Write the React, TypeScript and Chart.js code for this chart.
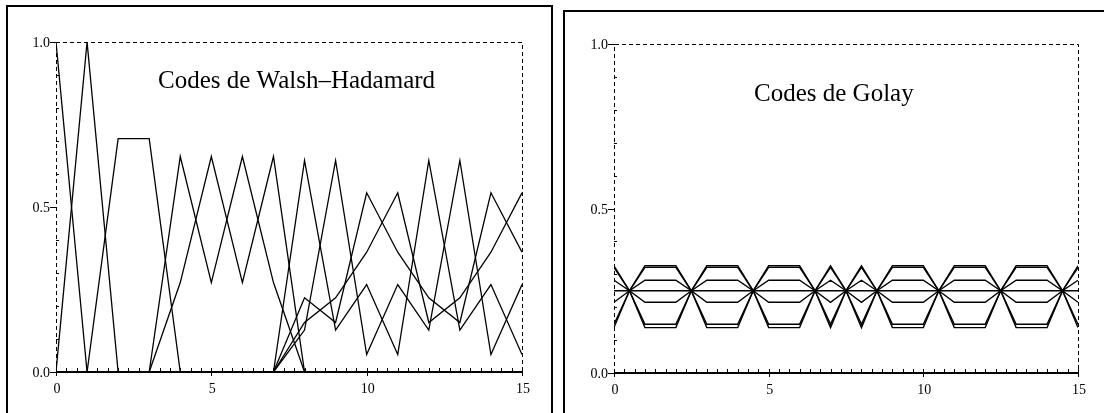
import { useEffect, useRef } from "react";
import { Chart, registerables } from "chart.js";

Chart.register(...registerables);

// ---- Walsh–Hadamard codes: spectral magnitude per frequency bin, by code index ----
const codeIndex = [0, 1, 2, 3, 4, 5, 6, 7, 8, 9, 10, 11, 12, 13, 14, 15];
const walshBin0 = [1, 0, 0, 0, 0, 0, 0, 0, 0, 0, 0, 0, 0, 0, 0, 0];
const walshBin8 = [0, 1, 0, 0, 0, 0, 0, 0, 0, 0, 0, 0, 0, 0, 0, 0];
const walshBin4 = [0, 0, 0.707, 0.707, 0, 0, 0, 0, 0, 0, 0, 0, 0, 0, 0, 0];
const walshBin2 = [0, 0, 0, 0, 0.653, 0.271, 0.653, 0.271, 0, 0, 0, 0, 0, 0, 0, 0];
const walshBin6 = [0, 0, 0, 0, 0.271, 0.653, 0.271, 0.653, 0, 0, 0, 0, 0, 0, 0, 0];
const walshBin1 = [0, 0, 0, 0, 0, 0, 0, 0, 0.641, 0.127, 0.265, 0.053, 0.641, 0.127, 0.265, 0.053];
const walshBin3 = [0, 0, 0, 0, 0, 0, 0, 0, 0.225, 0.150, 0.543, 0.363, 0.225, 0.150, 0.543, 0.363];
const walshBin5 = [0, 0, 0, 0, 0, 0, 0, 0, 0.150, 0.225, 0.363, 0.543, 0.150, 0.225, 0.363, 0.543];
const walshBin7 = [0, 0, 0, 0, 0, 0, 0, 0, 0.127, 0.641, 0.053, 0.265, 0.127, 0.641, 0.053, 0.265];
const walshSeries = [walshBin0, walshBin8, walshBin4, walshBin2, walshBin6, walshBin1, walshBin3, walshBin5, walshBin7];

// ---- Golay codes: sampled every half step ----
const golayX = [
  0, 0.5, 1, 1.5, 2, 2.5, 3, 3.5, 4, 4.5, 5, 5.5, 6, 6.5, 7, 7.5,
  8, 8.5, 9, 9.5, 10, 10.5, 11, 11.5, 12, 12.5, 13, 13.5, 14, 14.5, 15,
];
const golayA = [
  0.148, 0.25, 0.326, 0.326, 0.326, 0.25, 0.148, 0.148, 0.148, 0.25, 0.326, 0.326, 0.326, 0.25, 0.148, 0.25,
  0.326, 0.25, 0.148, 0.148, 0.148, 0.25, 0.326, 0.326, 0.326, 0.25, 0.148, 0.148, 0.148, 0.25, 0.326,
];
const golayB = [
  0.138, 0.25, 0.321, 0.321, 0.321, 0.25, 0.138, 0.138, 0.138, 0.25, 0.321, 0.321, 0.321, 0.25, 0.138, 0.25,
  0.321, 0.25, 0.138, 0.138, 0.138, 0.25, 0.321, 0.321, 0.321, 0.25, 0.138, 0.138, 0.138, 0.25, 0.321,
];
const golayC = [
  0.215, 0.25, 0.282, 0.282, 0.282, 0.25, 0.215, 0.215, 0.215, 0.25, 0.282, 0.282, 0.282, 0.25, 0.215, 0.25,
  0.282, 0.25, 0.215, 0.215, 0.215, 0.25, 0.282, 0.282, 0.282, 0.25, 0.215, 0.215, 0.215, 0.25, 0.282,
];
const golayD = [
  0.25, 0.25, 0.25, 0.25, 0.25, 0.25, 0.25, 0.25, 0.25, 0.25, 0.25, 0.25, 0.25, 0.25, 0.25, 0.25,
  0.25, 0.25, 0.25, 0.25, 0.25, 0.25, 0.25, 0.25, 0.25, 0.25, 0.25, 0.25, 0.25, 0.25, 0.25,
];
const golayE = [
  0.282, 0.25, 0.215, 0.215, 0.215, 0.25, 0.282, 0.282, 0.282, 0.25, 0.215, 0.215, 0.215, 0.25, 0.282, 0.25,
  0.215, 0.25, 0.282, 0.282, 0.282, 0.25, 0.215, 0.215, 0.215, 0.25, 0.282, 0.282, 0.282, 0.25, 0.215,
];
const golayF = [
  0.326, 0.25, 0.148, 0.148, 0.148, 0.25, 0.326, 0.326, 0.326, 0.25, 0.148, 0.148, 0.148, 0.25, 0.326, 0.25,
  0.148, 0.25, 0.326, 0.326, 0.326, 0.25, 0.148, 0.148, 0.148, 0.25, 0.326, 0.326, 0.326, 0.25, 0.148,
];
const golayG = [
  0.321, 0.25, 0.138, 0.138, 0.138, 0.25, 0.321, 0.321, 0.321, 0.25, 0.138, 0.138, 0.138, 0.25, 0.321, 0.25,
  0.138, 0.25, 0.321, 0.321, 0.321, 0.25, 0.138, 0.138, 0.138, 0.25, 0.321, 0.321, 0.321, 0.25, 0.138,
];
const golaySeries = [golayA, golayB, golayC, golayD, golayE, golayF, golayG];

// ---- axis ticks ----
const yMajorTicks = [0, 0.5, 1];
const yTickLabels = ["0.0", "0.5", "1.0"];
const yMinorTicks = [0.1, 0.2, 0.3, 0.4, 0.6, 0.7, 0.8, 0.9];
const xMajorTicks = [0, 5, 10, 15];
const xTickLabels = ["0", "5", "10", "15"];
const xMinorPerUnit = 3;

const SERIF = '"Liberation Serif", "Times New Roman", serif';

type PanelSpec = {
  xs: number[];
  series: number[][];
  title: string;
  titleX: number;
  titleY: number;
  padding: { left: number; right: number; top: number; bottom: number };
  lineWidth: number;
};

function axesPlugin(title: string, titleX: number, titleY: number) {
  return {
    id: "plotFrame",
    afterDatasetsDraw(chart: any) {
      const { ctx, chartArea: a, scales } = chart;
      const xs = scales.x;
      const ys = scales.y;
      ctx.save();
      ctx.strokeStyle = "#000";
      ctx.fillStyle = "#000";

      // dashed left, top and right sides of the frame
      ctx.lineWidth = 1;
      ctx.setLineDash([4, 3]);
      ctx.beginPath();
      ctx.moveTo(a.left + 0.5, a.bottom);
      ctx.lineTo(a.left + 0.5, a.top + 0.5);
      ctx.lineTo(a.right + 0.5, a.top + 0.5);
      ctx.lineTo(a.right + 0.5, a.bottom);
      ctx.stroke();
      ctx.setLineDash([]);

      // solid x axis
      ctx.lineWidth = 2;
      ctx.beginPath();
      ctx.moveTo(a.left, a.bottom);
      ctx.lineTo(a.right + 1, a.bottom);
      ctx.stroke();

      ctx.lineWidth = 1;
      ctx.beginPath();
      // y minor ticks (inward)
      for (const v of yMinorTicks) {
        const py = Math.round(ys.getPixelForValue(v)) + 0.5;
        ctx.moveTo(a.left, py);
        ctx.lineTo(a.left + 3, py);
      }
      // y major ticks (outward)
      for (const v of yMajorTicks) {
        const py = Math.round(ys.getPixelForValue(v)) + 0.5;
        ctx.moveTo(a.left - 6, py);
        ctx.lineTo(a.left + 1, py);
      }
      // x minor ticks (inward)
      const xMax = xs.max;
      for (let k = 1; k < xMax * xMinorPerUnit; k++) {
        const px = Math.round(xs.getPixelForValue(k / xMinorPerUnit)) + 0.5;
        ctx.moveTo(px, a.bottom);
        ctx.lineTo(px, a.bottom - 4);
      }
      // x major ticks
      for (const v of xMajorTicks) {
        const px = Math.round(xs.getPixelForValue(v)) + 0.5;
        ctx.moveTo(px, a.bottom - 4);
        ctx.lineTo(px, a.bottom + 4);
      }
      ctx.stroke();

      // tick labels
      ctx.font = `14px ${SERIF}`;
      ctx.textAlign = "right";
      ctx.textBaseline = "alphabetic";
      yMajorTicks.forEach((v, i) => {
        ctx.fillText(yTickLabels[i], a.left - 6, ys.getPixelForValue(v) + 5);
      });
      ctx.textAlign = "center";
      xMajorTicks.forEach((v, i) => {
        ctx.fillText(xTickLabels[i], xs.getPixelForValue(v) + 1, a.bottom + 21);
      });

      // title inside the plot
      ctx.font = `25px ${SERIF}`;
      ctx.textAlign = "left";
      ctx.fillText(title, titleX, titleY);
      ctx.restore();
    },
  };
}

function Panel({ spec, width, height }: { spec: PanelSpec; width: number; height: number }) {
  const ref = useRef<HTMLCanvasElement | null>(null);
  useEffect(() => {
    if (!ref.current) return;
    const chart = new Chart(ref.current, {
      type: "line",
      data: {
        datasets: spec.series.map((vals) => ({
          data: vals.map((y, i) => ({ x: spec.xs[i], y })),
          borderColor: "#000",
          borderWidth: spec.lineWidth,
          pointRadius: 0,
          fill: false,
          tension: 0,
        })),
      },
      options: {
        animation: false,
        responsive: false,
        devicePixelRatio: 1,
        layout: { padding: spec.padding },
        plugins: { legend: { display: false }, tooltip: { enabled: false } },
        events: [],
        scales: {
          x: { type: "linear", min: 0, max: 15, display: false },
          y: { type: "linear", min: 0, max: 1, display: false },
        },
      },
      plugins: [axesPlugin(spec.title, spec.titleX, spec.titleY)],
    });
    return () => chart.destroy();
  }, [spec]);
  return <canvas ref={ref} width={width} height={height} style={{ width, height, display: "block" }} />;
}

const walshSpec: PanelSpec = {
  xs: codeIndex,
  series: walshSeries,
  title: "Codes de Walsh–Hadamard",
  titleX: 158,
  titleY: 88,
  padding: { left: 56, right: 34, top: 42, bottom: 41 },
  lineWidth: 1.3,
};

const golaySpec: PanelSpec = {
  xs: golayX,
  series: golaySeries,
  title: "Codes de Golay",
  titleX: 198,
  titleY: 100.5,
  padding: { left: 58, right: 26, top: 44, bottom: 40 },
  lineWidth: 1.4,
};

export default function App() {
  return (
    <div
      style={{
        position: "fixed",
        left: 0,
        top: 0,
        width: 1104,
        height: 413,
        overflow: "hidden",
        background: "#fff",
      }}
    >
      <div style={{ position: "absolute", left: 0, top: 0 }}>
        <Panel spec={walshSpec} width={556} height={413} />
      </div>
      <div style={{ position: "absolute", left: 556, top: 0 }}>
        <Panel spec={golaySpec} width={548} height={413} />
      </div>
      <div
        style={{
          position: "absolute",
          left: 6,
          top: 5,
          width: 547,
          height: 440,
          border: "2.5px solid #000",
          boxSizing: "border-box",
        }}
      />
      <div
        style={{
          position: "absolute",
          left: 562.5,
          top: 9.5,
          width: 600,
          height: 440,
          border: "2.5px solid #000",
          boxSizing: "border-box",
        }}
      />
    </div>
  );
}
